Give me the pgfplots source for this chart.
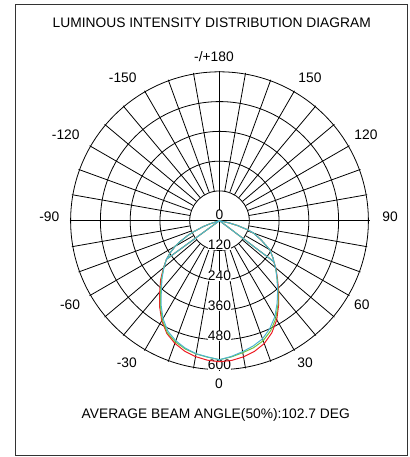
\documentclass[border=0pt]{standalone}
\usepackage{fontspec}
\setmainfont{Liberation Sans}
\usepackage{pgfplots}
\usepackage{pgfplotstable}
\pgfplotsset{compat=1.18}
\definecolor{cRed}{RGB}{237,28,36}
\definecolor{cGreen}{RGB}{115,195,60}
\definecolor{cCyan}{RGB}{75,180,210}
\newcommand\lbl{\fontsize{13.8bp}{16bp}\selectfont}

\pgfplotstableread{
t r
-74 0
-72 40
-70 70
-67 110
-65 140
-62 180
-60 205
-57 235
-54 262
-50 290
-45 325
-40 362
-35 408
-30 452
-25 488
-20 511
-15 528
-10 540
-5 547
0 556
5 545
10 532
15 519
20 503
25 476
30 443
35 402
40 362
45 325
50 293
53 272
55 262
60 232
65 185
70 145
72 120
75 75
77 40
79 0
}\cyandata

\pgfplotstableread{
t r
-74 0
-72 40
-70 70
-67 110
-65 140
-62 180
-60 205
-57 235
-54 262
-50 292
-45 333
-40 372
-35 418
-30 462
-25 498
-20 522
-15 540
-10 552
-5 560
0 564
5 561
10 553
15 541
20 523
25 495
30 458
35 412
40 368
45 328
50 294
53 272
55 262
60 232
65 185
70 145
72 120
75 75
77 40
79 0
}\reddata

\pgfplotstableread{
t r
-74 0
-72 40
-70 70
-67 110
-65 140
-62 180
-60 205
-57 235
-54 262
-50 291
-45 328
-40 366
-35 413
-30 458
-25 494
-20 516
-15 531
-10 541
-5 548
0 556
5 547
10 536
15 526
20 511
25 485
30 451
35 408
40 365
45 326
50 293
53 272
55 262
60 232
65 185
70 145
72 120
75 75
77 40
79 0
}\greendata

\pgfplotstableread{
t r
-54 262
0 0
53 272
}\spokes

\begin{document}
\begin{tikzpicture}
\begin{axis}[
  x=0.25bp, y=0.25bp,
  xmin=-878, xmax=762, ymin=-945.2, ymax=882.8,
  hide axis,
  clip=false,
]
\path (axis cs:-878,-945.2) rectangle (axis cs:762,882.8);
\draw[black!80, line width=1bp] (axis cs:-815,-940) rectangle (axis cs:750,864);

% grid circles
\pgfplotsinvokeforeach{120,240,360,480,600}{
  \draw[line width=0.8bp] (axis cs:0,0) circle[radius=#1/4 bp];
}
% radial lines
\pgfplotsinvokeforeach{10,20,30,40,50,60,70,80,100,110,120,130,140,150,160,170,190,200,210,220,230,240,250,260,280,290,300,310,320,330,340,350}{
  \draw[line width=0.8bp] (axis cs:{120*cos(#1)},{120*sin(#1)}) -- (axis cs:{600*cos(#1)},{600*sin(#1)});
}
\draw[line width=0.8bp] (axis cs:-600,0) -- (axis cs:600,0);
\draw[line width=0.8bp] (axis cs:0,-600) -- (axis cs:0,600);

% radial value labels
\node[font=\lbl, anchor=base, fill=white, inner sep=0.3bp] at (axis cs:0,4) {0};
\node[font=\lbl, anchor=base, fill=white, inner sep=0.3bp] at (axis cs:0,-114) {120};
\node[font=\lbl, anchor=base, fill=white, inner sep=0.3bp] at (axis cs:0,-241) {240};
\node[font=\lbl, anchor=base, fill=white, inner sep=0.3bp] at (axis cs:0,-361) {360};
\node[font=\lbl, anchor=base, fill=white, inner sep=0.3bp] at (axis cs:0,-479) {480};
\node[font=\lbl, anchor=base, fill=white, inner sep=0.3bp] at (axis cs:0,-596) {600};

% curves
\addplot[cRed, line width=1bp, data cs=polar, no markers] table[x expr=\thisrow{t}-90, y=r] {\reddata};
\addplot[cRed, line width=1bp, data cs=polar, no markers] table[x expr=\thisrow{t}-90, y=r] {\spokes};
\addplot[cGreen, line width=1bp, data cs=polar, no markers] table[x expr=\thisrow{t}-90, y=r] {\greendata};
\addplot[cGreen, line width=1bp, data cs=polar, no markers] table[x expr=\thisrow{t}-90, y=r] {\spokes};
\addplot[cCyan, line width=1bp, data cs=polar, no markers] table[x expr=\thisrow{t}-90, y=r] {\cyandata};
\addplot[cCyan, line width=1bp, data cs=polar, no markers] table[x expr=\thisrow{t}-90, y=r] {\spokes};

% angle labels
\node[font=\lbl, anchor=base] at (axis cs:-22,635) {-/+180};
\node[font=\lbl, anchor=base] at (axis cs:-387,554) {-150};
\node[font=\lbl, anchor=base] at (axis cs:362,554) {150};
\node[font=\lbl, anchor=base] at (axis cs:-615,324) {-120};
\node[font=\lbl, anchor=base] at (axis cs:586,324) {120};
\node[font=\lbl, anchor=base] at (axis cs:-681,-4) {-90};
\node[font=\lbl, anchor=base] at (axis cs:682,-4) {90};
\node[font=\lbl, anchor=base] at (axis cs:-598,-357) {-60};
\node[font=\lbl, anchor=base] at (axis cs:569,-357) {60};
\node[font=\lbl, anchor=base] at (axis cs:-371,-588) {-30};
\node[font=\lbl, anchor=base] at (axis cs:342,-588) {30};
\node[font=\lbl, anchor=base] at (axis cs:-2,-670) {0};

% title and footer
\node[font=\lbl, anchor=base] at (axis cs:-31,771) {LUMINOUS INTENSITY DISTRIBUTION DIAGRAM};
\node[font=\lbl, anchor=base] at (axis cs:-15,-793) {AVERAGE BEAM ANGLE(50\%):102.7 DEG};
\end{axis}
\end{tikzpicture}
\end{document}
